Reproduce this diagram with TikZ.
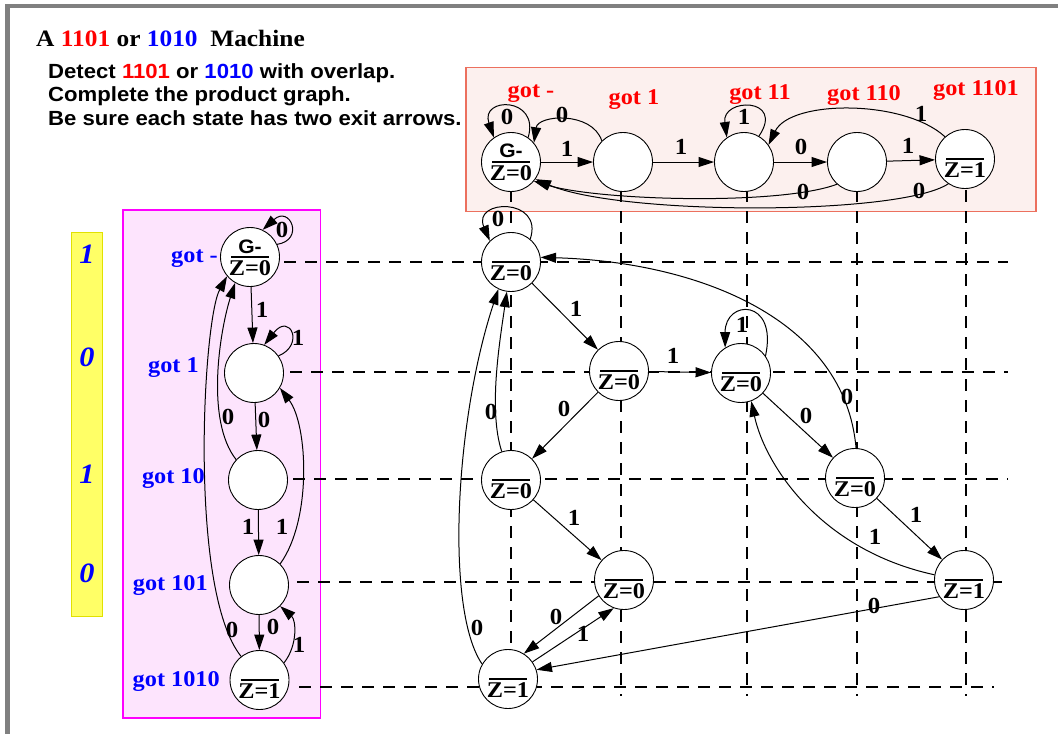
\documentclass[tikz,border=0pt]{standalone}
\usepackage{fontspec}
\setmainfont{Liberation Serif}[FakeStretch=1.08]
\setsansfont{Liberation Sans}[FakeStretch=1.08]
\usetikzlibrary{arrows.meta,calc}
\definecolor{frameg}{RGB}{128,128,128}
\definecolor{topf}{RGB}{252,240,238}
\definecolor{topb}{RGB}{236,112,94}
\definecolor{leftf}{RGB}{253,228,253}
\definecolor{leftb}{RGB}{255,0,255}
\definecolor{yelf}{RGB}{255,255,102}
\definecolor{yelb}{RGB}{225,225,0}
\pgfdeclarelayer{back}
\pgfdeclarelayer{mid}
\pgfsetlayers{back,mid,main}
\tikzset{
  st/.style={circle,draw,fill=white,minimum size=59pt,inner sep=0pt,line width=0.9pt},
  edge/.style={line width=1pt,-{Triangle[length=15.5pt,width=10pt]}},
  elab/.style={font=\fontsize{23}{23}\selectfont\bfseries,inner sep=0pt},
  ztxt/.style={font=\fontsize{22.5}{22.5}\selectfont\bfseries,inner sep=0pt},
  gtxt/.style={font=\sffamily\fontsize{19.5}{19.5}\selectfont\bfseries,inner sep=0pt},
  split/.style={line width=1.8pt},
  dline/.style={line width=1.8pt,dash pattern=on 12pt off 9pt},
  redlab/.style={font=\fontsize{22.5}{22.5}\selectfont\bfseries,text=red,inner sep=0pt,anchor=base},
  bluelab/.style={font=\fontsize{22.5}{22.5}\selectfont\bfseries,text=blue,inner sep=0pt,anchor=base east},
  yellab/.style={font=\fontsize{28}{28}\selectfont\bfseries\itshape,text=blue,inner sep=0pt},
  subt/.style={font=\sffamily\fontsize{20.5}{23}\selectfont\bfseries,inner sep=0pt,anchor=base west}
}
\newcommand\zs[2]{\draw[split] ([xshift=-19pt]#1.center) -- ([xshift=19pt]#1.center);
  \node[ztxt] at ([yshift=-11.5pt]#1.center) {#2};}
\newcommand\gs[1]{\node[gtxt] at ([yshift=11.5pt]#1.center) {G-};}
\begin{document}
\begin{tikzpicture}[x=1pt,y=-1pt]
\useasboundingbox (0,0) rectangle (1058,734);
\begin{pgfonlayer}{back}
\fill[white] (0,0) rectangle (1058,734);
\fill[frameg] (5,3.5) rectangle (1058,7.5);
\fill[frameg] (5,3.5) rectangle (10,734);
\draw[draw=topb,fill=topf,line width=1.7pt] (466,67.5) rectangle (1036,211.5);
\draw[draw=leftb,fill=leftf,line width=1.5pt] (123,210) rectangle (320.5,718);
\draw[draw=yelb,fill=yelf,line width=0.8pt] (71.5,232.5) rectangle (102.5,616.5);
\end{pgfonlayer}
% texts
\node[anchor=base west,inner sep=0pt,font=\fontsize{23.5}{26}\selectfont\bfseries] (title) at (36,46)
  {A \textcolor{red}{1101} or \textcolor{blue}{1010}\ \ Machine};
\node[subt] (s1) at (48,78.5) {Detect \textcolor{red}{1101} or \textcolor{blue}{1010} with overlap.};
\node[subt] (s2) at (48,101.5) {Complete the product graph.};
\node[subt] (s3) at (48,125) {Be sure each state has two exit arrows.};
% yellow bar labels
\node[yellab] (y1) at (87,254) {1};
\node[yellab] (y2) at (87,357) {0};
\node[yellab] (y3) at (87,474) {1};
\node[yellab] (y4) at (87,573) {0};
% top machine
\node[st] (T1) at (511,162) {};
\node[st] (T2) at (623,162) {};
\node[st] (T3) at (744,162) {};
\node[st] (T4) at (857,162) {};
\node[st] (T5) at (965,159) {};
\gs{T1}\zs{T1}{Z=0}
\zs{T5}{Z=1}
\node[redlab] (tl1) at (531,97.5) {got -};
\node[redlab] (tl2) at (634,104) {got 1};
\node[redlab] (tl3) at (760,99.5) {got 11};
\node[redlab] (tl4) at (864,100) {got 110};
\node[redlab] (tl5) at (976,95) {got 1101};
% left machine
\node[st] (L1) at (250,257) {};
\node[st] (L2) at (254,373) {};
\node[st] (L3) at (258,480) {};
\node[st] (L4) at (259,585) {};
\node[st] (L5) at (259.5,680) {};
\node[gtxt] at ([yshift=10pt]L1.center) {G-};
\zs{L1}{Z=0}
\zs{L5}{Z=1}
\node[bluelab] (ll1) at (218,262.5) {got -};
\node[bluelab] (ll2) at (199,372) {got 1};
\node[bluelab] (ll3) at (205,483) {got 10};
\node[bluelab] (ll4) at (208,590) {got 101};
\node[bluelab] (ll5) at (220,686.5) {got 1010};
% product graph
\node[st] (P11) at (511,262) {};
\node[st] (P22) at (619,371) {};
\node[st] (P23) at (741,373) {};
\node[st] (P31) at (511,480) {};
\node[st] (P34) at (855,478) {};
\node[st] (P42) at (624,580) {};
\node[st] (P45) at (964,580) {};
\node[st] (P51) at (508,679) {};
\zs{P11}{Z=0}\zs{P22}{Z=0}\zs{P23}{Z=0}\zs{P31}{Z=0}
\zs{P34}{Z=0}\zs{P42}{Z=0}\zs{P45}{Z=1}\zs{P51}{Z=1}
% dashed grid
\begin{pgfonlayer}{mid}
\foreach \c/\n in {511/T1,621/T2,747/T3,857/T4,966/T5}
  \draw[dline] (\c,190) -- (\c,696);
\draw[dline] (284,262) -- (1008,262);
\draw[dline] (290,372) -- (1008,372);
\draw[dline] (293,479) -- (1008,479);
\draw[dline] (297,582) -- (1008,582);
\draw[dline] (299,687) -- (994,687);
\end{pgfonlayer}
% top edges
\draw[edge] (T1.55) .. controls +(12,-41) and +(-14,-41) .. (T1.125);
\node[elab] at (507,117) {0};
\draw[edge] (T2.135) .. controls +(-10,-30) and +(4,-28) .. (T1.40);
\node[elab] at (562,115) {0};
\draw[edge] (T1) -- (T2);
\node[elab] at (567,149) {1};
\draw[edge] (T2) -- (T3);
\node[elab] at (681,147) {1};
\draw[edge] (T3.60) .. controls +(26.5,-39) and +(-5.4,-40) .. (T3.125);
\node[elab] at (744,117) {1};
\draw[edge] (T3) -- (T4);
\node[elab] at (801,147) {0};
\draw[edge] (T4) -- (T5);
\node[elab] at (908,146) {1};
\draw[edge] (T5.132) .. controls +(-40.6,-37.4) and +(22.2,-45.4) .. (T3.35);
\node[elab] at (921,114) {1};
\draw[edge] (T4.228) .. controls +(-57.6,21.4) and +(66.8,19.4) .. (T1.-40);
\node[elab] at (803,192) {0};
\draw[edge] (T5.236) .. controls +(-48.8,32) and +(85.2,36.4) .. (T1.-35);
\node[elab] at (919,191) {0};
% left edges
\draw[edge] (L1.25) .. controls (305,240) and (290,205) .. (L1.65);
\node[elab] at (282,230) {0};
\draw[edge] (L2.35) .. controls (305,345) and (290,312) .. (L2.70);
\node[elab] at (298,338) {1};
\draw[edge] (L1) -- (L2);
\node[elab] at (262,310) {1};
\draw[edge] (L2) -- (L3);
\node[elab] at (264,420) {0};
\draw[edge] (L3) -- (L4);
\node[elab] at (248,527) {1};
\draw[edge] (L4) -- (L5);
\node[elab] at (273,627) {0};
\draw[edge] (L3.137) .. controls (205,420) and (220,330) .. (L1.240);
\node[elab] at (228,417) {0};
\draw[edge] (L5.128) .. controls (188,590) and (203,320) .. (L1.220);
\node[elab] at (232,630) {0};
\draw[edge] (L4.45) .. controls (312,520) and (308,425) .. (L2.-30);
\node[elab] at (282,527) {1};
\draw[edge] (L5.35) .. controls (298,645) and (296,620) .. (L4.-45);
\node[elab] at (299,645) {1};
% product edges
\draw[edge] (P11.50) .. controls +(14,-42) and +(-18,-42) .. (P11.135);
\node[elab] at (498,219) {0};
\draw[edge] (P11) -- (P22);
\node[elab] at (576,309) {1};
\draw[edge] (P22) -- (P23);
\node[elab] at (673,356) {1};
\draw[edge] (P22) -- (P31);
\node[elab] at (564,409) {0};
\draw[edge] (P23) -- (P34);
\node[elab] at (806,416) {0};
\draw[edge] (P34) -- (P45);
\node[elab] at (916,515) {1};
\draw[edge] (P31) -- (P42);
\node[elab] at (574,518) {1};
\draw[edge] (P42.212) -- (P51.58);
\node[elab] at (556,617) {0};
\draw[edge] (P51.35) -- (P42.250);
\node[elab] at (583,634) {1};
\draw[edge] (P45.214) -- (P51.18);
\node[elab] at (874,606) {0};
\draw[edge] (P45.170) .. controls (820,550) and (765,465) .. (P23.-70);
\node[elab] at (875,537) {1};
\draw[edge] (P34.88) .. controls (845,320) and (700,262) .. (P11.9);
\node[elab] at (847,397) {0};
\draw[edge] (P31.108) .. controls (488,410) and (500,340) .. (P11.262);
\node[elab] at (491,412) {0};
\draw[edge] (P51.150) .. controls (445,610) and (455,420) .. (P11.245);
\node[elab] at (477,628) {0};
\draw[edge] (P23.35) .. controls (778,298) and (725,299) .. (P23.122);
\node[elab] at (742,325) {1};
\end{tikzpicture}
\end{document}
